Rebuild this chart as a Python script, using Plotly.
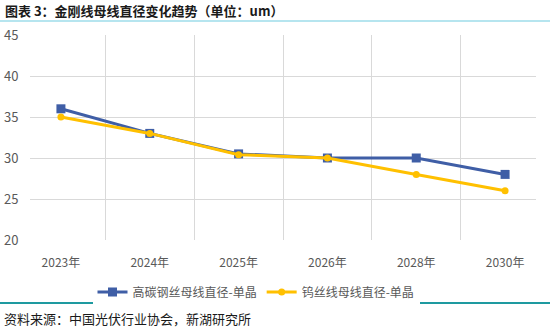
import plotly.graph_objects as go

# Data
years = ["2023年", "2024年", "2025年", "2026年", "2028年", "2030年"]
steel_wire = [36, 33, 30.5, 30, 30, 28]      # 高碳钢丝母线直径-单晶
tungsten_wire = [35, 33, 30.4, 30, 28, 26]   # 钨丝线母线直径-单晶

W, H = 550, 330
L, R, T, B = 30, 14, 35, 90
pw, ph = W - L - R, H - T - B


def px_x(x):
    return (x - L) / pw


def px_y(y):
    return (H - B - y) / ph


fig = go.Figure()
fig.add_trace(go.Scatter(
    x=years, y=steel_wire, name="高碳钢丝母线直径-单晶",
    mode="lines+markers",
    line=dict(color="#3F5EA6", width=3),
    marker=dict(symbol="square", size=9, color="#3F5EA6"),
))
fig.add_trace(go.Scatter(
    x=years, y=tungsten_wire, name="钨丝线母线直径-单晶",
    mode="lines+markers",
    line=dict(color="#FFC000", width=3),
    marker=dict(symbol="circle", size=7, color="#FFC000"),
))

font_cjk = "Noto Sans CJK SC"

fig.update_layout(
    width=W, height=H,
    margin=dict(l=L, r=R, t=T, b=B),
    paper_bgcolor="white", plot_bgcolor="white",
    font=dict(family=font_cjk, color="#595959", size=12),
    showlegend=True,
    legend=dict(orientation="h", x=px_x(256), xanchor="center",
                y=px_y(292), yanchor="middle",
                font=dict(size=12, color="#595959"),
                itemwidth=30, traceorder="normal"),
    xaxis=dict(
        showgrid=True, gridcolor="#D9D9D9", gridwidth=1,
        tickson="boundaries", ticks="", showline=False,
        tickfont=dict(size=12, color="#595959"),
        zeroline=False, ticklabelstandoff=14,
    ),
    yaxis=dict(
        range=[20, 45], dtick=5, showgrid=True, gridcolor="#D9D9D9",
        gridwidth=1, ticks="outside", ticklen=8,
        tickcolor="rgba(0,0,0,0)", showline=False, zeroline=False,
        tickfont=dict(size=13, color="#595959"),
        automargin=False,
    ),
)

# Heading, rules and source note
fig.add_annotation(
    text="<b>图表 3：金刚线母线直径变化趋势（单位：um）</b>",
    x=px_x(3), y=px_y(11), xref="paper", yref="paper",
    xanchor="left", yanchor="middle", showarrow=False,
    font=dict(family=font_cjk, size=13, color="#1a1a1a"),
)
fig.add_shape(type="line", xref="paper", yref="paper",
              x0=px_x(0), x1=px_x(W), y0=px_y(21), y1=px_y(21),
              line=dict(color="#9EDDEA", width=1.5))
fig.add_shape(type="line", xref="paper", yref="paper",
              x0=px_x(0), x1=px_x(W), y0=px_y(303), y1=px_y(303),
              line=dict(color="#1E9AA0", width=2))
fig.add_annotation(
    text="资料来源：中国光伏行业协会，新湖研究所",
    x=px_x(2), y=px_y(318), xref="paper", yref="paper",
    xanchor="left", yanchor="middle", showarrow=False,
    font=dict(family=font_cjk, size=13, color="#1a1a1a"),
)

fig.write_html("out.html")
